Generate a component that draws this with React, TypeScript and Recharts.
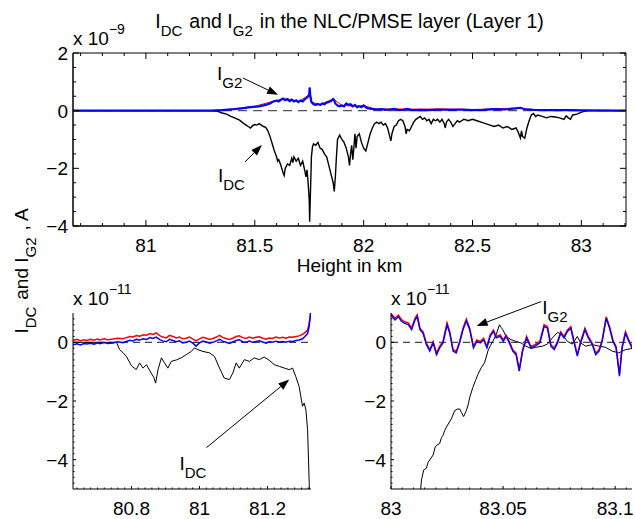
import { LineChart, Line, XAxis, YAxis, ReferenceLine, ReferenceArea } from 'recharts';

const FONT = '"Liberation Sans", Arial, Helvetica, sans-serif';

// ---------- top panel (whole layer), current in units of 1e-9 A ----------
const topDomainH = [80.665, 83.205];
const topDomainI = [-4, 2];
const topMajorH = [81, 81.5, 82, 82.5, 83];
const topMinorH = [80.7, 80.8, 80.9, 81.1, 81.2, 81.3, 81.4, 81.6, 81.7, 81.8, 81.9, 82.1, 82.2, 82.3, 82.4, 82.6, 82.7, 82.8, 82.9, 83.1, 83.2];
const topMajorI = [-4, -2, 0, 2];
const topMinorI = [-3.5, -3, -2.5, -1.5, -1, -0.5, 0.5, 1, 1.5];

const topIdc = [
  [80.665, 0], [81.3, 0], [81.33, -0.02], [81.35, -0.08], [81.37, -0.12], [81.39, -0.2], [81.41, -0.26],
  [81.43, -0.33], [81.45, -0.45], [81.46, -0.5], [81.47, -0.55], [81.48, -0.6], [81.49, -0.52], [81.5, -0.48],
  [81.51, -0.5], [81.52, -0.45], [81.53, -0.5], [81.54, -0.55], [81.55, -0.58], [81.56, -0.7], [81.57, -0.9],
  [81.58, -1.15], [81.59, -1.4], [81.6, -1.6], [81.605, -1.75], [81.61, -1.7], [81.62, -1.9], [81.63, -2.15],
  [81.635, -2.25], [81.64, -2.0], [81.65, -1.85], [81.66, -1.9], [81.67, -1.65], [81.675, -1.8], [81.68, -1.6],
  [81.69, -1.75], [81.7, -1.65], [81.71, -1.9], [81.72, -1.75], [81.73, -2.1], [81.735, -2.3], [81.74, -2.05],
  [81.745, -2.5], [81.75, -3.1], [81.752, -3.85], [81.755, -3.0], [81.758, -2.2], [81.76, -1.6], [81.765, -1.25],
  [81.77, -1.15], [81.78, -1.2], [81.79, -1.1], [81.8, -1.3], [81.81, -1.35], [81.82, -1.5], [81.83, -1.6],
  [81.84, -1.9], [81.85, -2.2], [81.86, -2.5], [81.865, -2.8], [81.87, -2.3], [81.875, -1.6], [81.88, -1.0],
  [81.89, -0.85], [81.9, -1.0], [81.91, -1.1], [81.92, -1.3], [81.93, -1.6], [81.935, -1.9], [81.94, -1.5],
  [81.945, -1.2], [81.95, -1.7], [81.955, -1.3], [81.96, -0.8], [81.965, -1.3], [81.97, -0.9], [81.98, -0.8],
  [81.99, -1.1], [82.0, -1.3], [82.01, -1.4], [82.02, -1.1], [82.03, -0.8], [82.04, -0.6], [82.05, -0.45],
  [82.06, -0.4], [82.07, -0.45], [82.08, -0.4], [82.09, -0.5], [82.1, -0.45], [82.11, -0.6], [82.12, -0.9],
  [82.125, -1.05], [82.13, -0.8], [82.14, -0.55], [82.15, -0.5], [82.16, -0.35], [82.17, -0.3], [82.18, -0.35],
  [82.19, -0.55], [82.195, -0.8], [82.2, -0.65], [82.21, -0.7], [82.22, -0.55], [82.23, -0.4], [82.24, -0.3],
  [82.25, -0.25], [82.26, -0.2], [82.27, -0.3], [82.28, -0.25], [82.29, -0.35], [82.3, -0.3], [82.31, -0.45],
  [82.32, -0.3], [82.33, -0.35], [82.34, -0.3], [82.35, -0.4], [82.36, -0.3], [82.37, -0.45], [82.375, -0.6],
  [82.38, -0.4], [82.39, -0.3], [82.4, -0.4], [82.41, -0.55], [82.42, -0.45], [82.43, -0.35], [82.44, -0.4],
  [82.45, -0.35], [82.46, -0.3], [82.47, -0.32], [82.48, -0.35], [82.5, -0.3], [82.52, -0.35], [82.54, -0.4],
  [82.56, -0.45], [82.58, -0.5], [82.6, -0.55], [82.62, -0.5], [82.64, -0.6], [82.66, -0.55], [82.68, -0.65],
  [82.7, -0.6], [82.71, -0.75], [82.72, -0.95], [82.725, -0.7], [82.73, -0.9], [82.74, -0.95], [82.75, -0.6],
  [82.76, -0.35], [82.77, -0.15], [82.78, -0.1], [82.79, -0.2], [82.8, -0.15], [82.82, -0.2], [82.84, -0.25],
  [82.86, -0.2], [82.88, -0.22], [82.9, -0.25], [82.92, -0.3], [82.93, -0.18], [82.94, -0.25], [82.95, -0.3],
  [82.96, -0.15], [82.98, -0.12], [83.0, -0.05], [83.03, 0], [83.205, 0],
];

// red trace sits almost exactly under the blue one
const topIg2Red = [
  [80.665, 0.0], [81.3, 0.0], [81.4, 0.06], [81.5, 0.15], [81.6, 0.36], [81.65, 0.41], [81.7, 0.31],
  [81.75, 0.55], [81.752, 0.8], [81.76, 0.3], [81.8, 0.21], [81.86, 0.41], [81.9, 0.18], [81.95, 0.16],
  [82.0, 0.18], [82.05, 0.06], [82.15, 0.06], [82.25, 0.05], [82.35, 0.06], [82.5, 0.04], [82.6, 0.06],
  [82.7, 0.09], [82.8, 0.03], [83.0, 0.01], [83.205, 0.0],
];

const topIg2Blue = [
  [80.665, 0], [81.3, 0], [81.35, 0.02], [81.4, 0.05], [81.44, 0.08], [81.48, 0.12], [81.52, 0.15],
  [81.55, 0.2], [81.57, 0.25], [81.58, 0.3], [81.6, 0.35], [81.61, 0.32], [81.62, 0.38], [81.63, 0.42],
  [81.64, 0.36], [81.65, 0.4], [81.66, 0.33], [81.67, 0.38], [81.68, 0.32], [81.69, 0.36], [81.7, 0.3],
  [81.71, 0.35], [81.72, 0.32], [81.73, 0.4], [81.74, 0.45], [81.75, 0.55], [81.752, 0.8], [81.755, 0.5],
  [81.76, 0.3], [81.77, 0.22], [81.78, 0.2], [81.79, 0.23], [81.8, 0.2], [81.81, 0.25], [81.82, 0.22],
  [81.83, 0.28], [81.84, 0.3], [81.85, 0.33], [81.86, 0.4], [81.865, 0.35], [81.87, 0.25], [81.88, 0.18],
  [81.89, 0.15], [81.9, 0.18], [81.91, 0.15], [81.92, 0.25], [81.93, 0.2], [81.94, 0.22], [81.95, 0.15],
  [81.96, 0.2], [81.97, 0.12], [81.98, 0.15], [81.99, 0.12], [82.0, 0.18], [82.01, 0.12], [82.02, 0.08],
  [82.04, 0.06], [82.06, 0.04], [82.08, 0.05], [82.1, 0.03], [82.12, 0.04], [82.14, 0.06], [82.16, 0.02],
  [82.18, 0.03], [82.2, 0.06], [82.22, 0.02], [82.26, 0.03], [82.3, 0.02], [82.35, 0.04], [82.4, 0.03],
  [82.45, 0.04], [82.5, 0.02], [82.55, 0.03], [82.6, 0.05], [82.65, 0.04], [82.7, 0.08], [82.72, 0.1],
  [82.74, 0.05], [82.78, 0.03], [82.85, 0.02], [82.95, 0.02], [83.0, 0.01], [83.205, 0],
];

// ---------- bottom panels, units of 1e-11 A ----------
const lowDomainI = [-5, 1];
const lowMajorI = [-4, -2, 0];
const lowMinorI = [-4.8, -4.6, -4.4, -4.2, -3.8, -3.6, -3.4, -3.2, -3, -2.8, -2.6, -2.4, -2.2, -1.8, -1.6, -1.4,
  -1.2, -1, -0.8, -0.6, -0.4, -0.2, 0.2, 0.4, 0.6, 0.8];

// lower edge of the layer
const leftDomainH = [80.628, 81.328];
const leftMajorH = [80.8, 81, 81.2];
const leftMinorH = [80.64, 80.66, 80.68, 80.7, 80.72, 80.74, 80.76, 80.78, 80.82, 80.84, 80.86, 80.88, 80.9,
  80.92, 80.94, 80.96, 80.98, 81.02, 81.04, 81.06, 81.08, 81.1, 81.12, 81.14, 81.16, 81.18, 81.22, 81.24,
  81.26, 81.28, 81.3, 81.32];

const leftIdc = [
  [80.628, 0.0], [80.7, 0.0], [80.756, 0.0], [80.765, -0.25], [80.775, -0.35], [80.785, -0.48], [80.8, -0.8],
  [80.814, -0.93], [80.824, -0.7], [80.834, -0.88], [80.844, -0.76], [80.858, -1.05], [80.866, -1.2],
  [80.871, -1.39], [80.878, -0.93], [80.888, -0.53], [80.897, -0.7], [80.907, -0.88], [80.917, -0.65],
  [80.932, -0.6], [80.946, -0.53], [80.961, -0.42], [80.976, -0.31], [80.985, -0.19], [80.995, -0.25],
  [81.01, -0.31], [81.03, -0.36], [81.044, -0.48], [81.059, -0.88], [81.073, -1.22], [81.088, -1.27],
  [81.098, -1.05], [81.108, -0.7], [81.117, -0.88], [81.132, -0.59], [81.147, -0.65], [81.161, -0.53],
  [81.176, -0.59], [81.19, -0.5], [81.205, -0.61], [81.22, -0.76], [81.235, -0.82], [81.25, -0.88],
  [81.264, -0.93], [81.274, -0.88], [81.283, -1.16], [81.293, -1.5], [81.303, -2.18], [81.308, -2.07],
  [81.313, -2.3], [81.318, -2.98], [81.323, -4.9], [81.325, -5.5],
];

const leftIg2Red = [
  [80.628, 0.07], [80.64, 0.1], [80.65, 0.05], [80.66, 0.09], [80.668, 0.06], [80.68, 0.1], [80.69, 0.07],
  [80.7, 0.11], [80.707, 0.08], [80.72, 0.12], [80.73, 0.09], [80.746, 0.11], [80.76, 0.14], [80.775, 0.12],
  [80.785, 0.16], [80.795, 0.2], [80.804, 0.18], [80.815, 0.23], [80.824, 0.21], [80.835, 0.26], [80.844, 0.24],
  [80.855, 0.3], [80.863, 0.27], [80.873, 0.32], [80.883, 0.23], [80.892, 0.18], [80.902, 0.15], [80.912, 0.24],
  [80.922, 0.2], [80.932, 0.15], [80.941, 0.18], [80.951, 0.12], [80.961, 0.14], [80.97, 0.18], [80.98, 0.12],
  [80.99, 0.05], [81.0, 0.12], [81.01, 0.17], [81.02, 0.14], [81.03, 0.1], [81.039, 0.13], [81.05, 0.18],
  [81.059, 0.24], [81.068, 0.17], [81.078, 0.13], [81.088, 0.1], [81.098, 0.14], [81.108, 0.2], [81.117, 0.22],
  [81.127, 0.16], [81.137, 0.13], [81.147, 0.18], [81.156, 0.14], [81.166, 0.17], [81.176, 0.19], [81.186, 0.14],
  [81.196, 0.11], [81.205, 0.15], [81.215, 0.13], [81.225, 0.18], [81.235, 0.15], [81.245, 0.17], [81.254, 0.14],
  [81.264, 0.18], [81.274, 0.17], [81.284, 0.2], [81.293, 0.22], [81.303, 0.27], [81.31, 0.33], [81.318, 0.42],
  [81.322, 0.6], [81.325, 0.85], [81.328, 1.15],
];

const leftIg2Blue = [
  [80.628, -0.08], [80.64, -0.05], [80.65, -0.09], [80.66, -0.04], [80.668, -0.06], [80.68, -0.03], [80.69, -0.06],
  [80.7, -0.02], [80.707, -0.05], [80.72, -0.01], [80.73, -0.04], [80.746, -0.02], [80.76, 0.02], [80.775, -0.01],
  [80.785, 0.03], [80.795, 0.07], [80.804, 0.05], [80.815, 0.1], [80.824, 0.08], [80.835, 0.12], [80.844, 0.1],
  [80.855, 0.16], [80.863, 0.13], [80.873, 0.18], [80.883, 0.09], [80.892, 0.05], [80.902, 0.02], [80.912, 0.1],
  [80.922, 0.06], [80.932, 0.02], [80.941, 0.05], [80.951, -0.02], [80.961, 0.0], [80.97, 0.04], [80.98, -0.02],
  [80.99, -0.13], [81.0, -0.02], [81.01, 0.04], [81.02, 0.01], [81.03, -0.03], [81.039, 0.0], [81.05, 0.05],
  [81.059, 0.1], [81.068, 0.04], [81.078, 0.0], [81.088, -0.04], [81.098, 0.01], [81.108, 0.06], [81.117, 0.09],
  [81.127, 0.02], [81.137, 0.0], [81.147, 0.04], [81.156, 0.0], [81.166, 0.03], [81.176, 0.05], [81.186, 0.01],
  [81.196, -0.03], [81.205, 0.02], [81.215, 0.0], [81.225, 0.04], [81.235, 0.01], [81.245, 0.03], [81.254, 0.0],
  [81.264, 0.04], [81.274, 0.03], [81.284, 0.06], [81.293, 0.08], [81.303, 0.12], [81.31, 0.2], [81.318, 0.3],
  [81.322, 0.5], [81.325, 0.8], [81.328, 1.1],
];

// upper edge of the layer
const rightDomainH = [83.0, 83.1075];
const rightMajorH = [83, 83.05, 83.1];
const rightMinorH = [83.005, 83.01, 83.015, 83.02, 83.025, 83.03, 83.035, 83.04, 83.045, 83.055, 83.06, 83.065,
  83.07, 83.075, 83.08, 83.085, 83.09, 83.095, 83.105];

const rightIdc = [
  [83.0132, -5.02], [83.0136, -4.69], [83.0146, -4.35], [83.0158, -4.29], [83.0165, -4.1], [83.0173, -4.01],
  [83.0188, -3.84], [83.0196, -3.6], [83.0203, -3.51], [83.0217, -3.45], [83.0225, -3.25], [83.0232, -3.17],
  [83.024, -3.0], [83.0247, -2.89], [83.0258, -2.75], [83.0269, -2.61], [83.0284, -2.33], [83.0295, -2.28],
  [83.0306, -2.27], [83.0315, -2.4], [83.0324, -2.53], [83.0336, -2.33], [83.0345, -2.1], [83.0351, -1.88],
  [83.0365, -1.54], [83.0377, -1.3], [83.0388, -1.09], [83.0402, -0.87], [83.0417, -0.7], [83.0425, -0.5],
  [83.0432, -0.3], [83.0444, -0.1], [83.0454, 0.03], [83.0469, 0.26], [83.0484, 0.6], [83.0492, 0.5],
  [83.0499, 0.43], [83.0513, 0.2], [83.0536, 0.09], [83.0558, 0.03], [83.058, -0.02], [83.0602, -0.13],
  [83.0624, -0.21], [83.0646, -0.17], [83.0676, -0.13], [83.0698, -0.06], [83.072, 0.15], [83.0743, 0.34],
  [83.0765, 0.26], [83.0787, 0.03], [83.0809, -0.06], [83.0831, 0.2], [83.0846, -0.02], [83.0868, -0.13],
  [83.0898, -0.08], [83.0928, -0.13], [83.0957, -0.17], [83.0987, -0.3], [83.1016, -0.36], [83.1046, -0.25],
  [83.1075, -0.21],
];

const rightIg2Red = [
  [83.0, 0.98], [83.0018, 0.82], [83.0033, 0.93], [83.0047, 0.77], [83.0062, 0.7], [83.0077, 0.66], [83.0092, 0.49],
  [83.0107, 0.82], [83.0117, 0.94], [83.0129, 0.48], [83.0143, 0.36], [83.0158, -0.03], [83.0173, -0.25],
  [83.0188, 0.03], [83.0203, -0.37], [83.0217, -0.14], [83.0232, 0.03], [83.025, 0.66], [83.0262, 0.36],
  [83.0277, -0.25], [83.0291, -0.31], [83.0306, 0.03], [83.0321, 0.48], [83.0336, 0.79], [83.0351, 0.48],
  [83.0368, -0.14], [83.0383, 0.08], [83.0398, 0.03], [83.0413, 0.14], [83.0428, -0.14], [83.0442, 0.25],
  [83.0457, 0.42], [83.0469, 0.2], [83.0487, 0.25], [83.0501, 0.08], [83.0513, 0.25], [83.0528, 0.03],
  [83.0543, -0.25], [83.0558, -0.37], [83.0572, -0.92], [83.0587, -0.25], [83.0605, 0.2], [83.0624, -0.14],
  [83.0643, -0.08], [83.0664, 0.03], [83.0683, 0.6], [83.0698, 0.53], [83.0713, -0.08], [83.0728, -0.2],
  [83.0743, 0.03], [83.0757, 0.36], [83.0772, 0.2], [83.0787, 0.42], [83.0802, 0.53], [83.0817, 0.03],
  [83.0831, -0.42], [83.0846, 0.03], [83.0865, 0.48], [83.088, 0.2], [83.0898, -0.03], [83.0913, -0.37],
  [83.0928, -0.25], [83.0942, 0.08], [83.096, 0.87], [83.0975, 0.53], [83.099, 0.08], [83.1004, -0.14],
  [83.1019, -1.08], [83.1031, -0.14], [83.1046, 0.36], [83.1061, 0.08], [83.1075, -0.14],
];

const rightIg2Blue = [
  [83.0, 0.93], [83.0018, 0.76], [83.0033, 0.88], [83.0047, 0.71], [83.0062, 0.65], [83.0077, 0.6], [83.0092, 0.43],
  [83.0107, 0.76], [83.0117, 0.88], [83.0129, 0.43], [83.0143, 0.31], [83.0158, -0.08], [83.0173, -0.3],
  [83.0188, -0.02], [83.0203, -0.42], [83.0217, -0.19], [83.0232, -0.02], [83.025, 0.6], [83.0262, 0.31],
  [83.0277, -0.3], [83.0291, -0.36], [83.0306, -0.02], [83.0321, 0.43], [83.0336, 0.73], [83.0351, 0.43],
  [83.0368, -0.19], [83.0383, 0.03], [83.0398, -0.02], [83.0413, 0.09], [83.0428, -0.19], [83.0442, 0.2],
  [83.0457, 0.37], [83.0469, 0.15], [83.0487, 0.2], [83.0501, 0.03], [83.0513, 0.2], [83.0528, -0.02],
  [83.0543, -0.3], [83.0558, -0.42], [83.0572, -0.98], [83.0587, -0.3], [83.0605, 0.15], [83.0624, -0.19],
  [83.0643, -0.13], [83.0664, -0.02], [83.0683, 0.54], [83.0698, 0.48], [83.0713, -0.13], [83.0728, -0.25],
  [83.0743, -0.02], [83.0757, 0.31], [83.0772, 0.15], [83.0787, 0.37], [83.0802, 0.48], [83.0817, -0.02],
  [83.0831, -0.47], [83.0846, -0.02], [83.0865, 0.43], [83.088, 0.15], [83.0898, -0.08], [83.0913, -0.42],
  [83.0928, -0.3], [83.0942, 0.03], [83.096, 0.82], [83.0975, 0.48], [83.099, 0.03], [83.1004, -0.19],
  [83.1019, -1.15], [83.1031, -0.19], [83.1046, 0.31], [83.1061, 0.03], [83.1075, -0.19],
];

// annotation arrows: [tail, head] in (height, current) units of each panel
const topG2Arrow = [[81.446, 1.13], [81.607, 0.55]];
const topDcArrow = [[81.455, -1.78], [81.533, -1.19]];
const leftDcArrow = [[81.0205, -3.59], [81.264, -1.27]];
const rightG2Arrow = [[83.067, 1.39], [83.0382, 0.56]];

const rows = (pairs: number[][]) => pairs.map(([h, v]) => ({ h, v }));
const zeroRow = (dom: number[]) => [{ h: dom[0], v: 0 }, { h: dom[1], v: 0 }];
const fmt = (v: number) => String(v).replace('-', '\u2212');
const isIn = (list: number[], v: number) => list.some((m) => Math.abs(m - v) < 1e-7);

type TickCfg = { majors: number[]; span: number; big: number; small: number; mirror: boolean };

const xTick = (c: TickCfg) => (p: any) => {
  const v = p.payload.value;
  const major = isIn(c.majors, v);
  const len = major ? c.big : c.small;
  return (
    <g>
      <line x1={p.x} y1={p.y} x2={p.x} y2={p.y - len} stroke="#000" />
      {c.mirror && <line x1={p.x} y1={p.y - c.span} x2={p.x} y2={p.y - c.span + len} stroke="#000" />}
      {major && (
        <text x={p.x} y={p.y + 26} textAnchor="middle" fontSize={19} fontFamily={FONT} fill="#000">
          {fmt(v)}
        </text>
      )}
    </g>
  );
};

const yTick = (c: TickCfg) => (p: any) => {
  const v = p.payload.value;
  const major = isIn(c.majors, v);
  const len = major ? c.big : c.small;
  return (
    <g>
      <line x1={p.x} y1={p.y} x2={p.x + len} y2={p.y} stroke="#000" />
      {c.mirror && <line x1={p.x + c.span} y1={p.y} x2={p.x + c.span - len} y2={p.y} stroke="#000" />}
      {major && (
        <text x={p.x - 5} y={p.y + 7} textAnchor="end" fontSize={19} fontFamily={FONT} fill="#000">
          {fmt(v)}
        </text>
      )}
    </g>
  );
};

const arrow = (sub: string, dx: number, dy: number) => (p: any) => {
  const { x1, y1, x2, y2 } = p;
  const a = Math.atan2(y2 - y1, x2 - x1);
  const L = 11;
  const W = 4;
  const bx = x2 - L * Math.cos(a);
  const by = y2 - L * Math.sin(a);
  const pts = `${x2},${y2} ${bx - W * Math.sin(a)},${by + W * Math.cos(a)} ${bx + W * Math.sin(a)},${by - W * Math.cos(a)}`;
  return (
    <g>
      <line x1={x1} y1={y1} x2={bx} y2={by} stroke="#000" strokeWidth={1} />
      <polygon points={pts} fill="#000" />
      <text x={x1 + dx} y={y1 + dy} fontSize={19} fontFamily={FONT} fill="#000">
        I<tspan dy={8} fontSize={15}>{sub}</tspan>
      </text>
    </g>
  );
};

const seg = (s: number[][]) => [{ x: s[0][0], y: s[0][1] }, { x: s[1][0], y: s[1][1] }];

const Sub = ({ t }: { t: string }) => (
  <>
    <tspan dy={8} fontSize={15}>{t}</tspan>
    <tspan dy={-8}>{'\u200a'}</tspan>
  </>
);

const App = () => {
  const topCfgX: TickCfg = { majors: topMajorH, span: 173, big: 6, small: 3, mirror: true };
  const topCfgY: TickCfg = { majors: topMajorI, span: 553, big: 6, small: 3, mirror: true };
  const leftCfgX: TickCfg = { majors: leftMajorH, span: 176, big: 3, small: 1.5, mirror: false };
  const lowCfgY: TickCfg = { majors: lowMajorI, span: 0, big: 3, small: 1.5, mirror: false };
  const rightCfgX: TickCfg = { majors: rightMajorH, span: 176, big: 3, small: 1.5, mirror: false };

  return (
    <div style={{ position: 'absolute', left: 0, top: 0, width: 635, height: 519, background: '#fff', fontFamily: FONT }}>
      {/* top panel */}
      <div style={{ position: 'absolute', left: 0, top: 0 }}>
        <LineChart width={635} height={260} margin={{ top: 53, right: 9, bottom: 4, left: 13 }}>
          <XAxis dataKey="h" type="number" domain={topDomainH} allowDataOverflow ticks={[...topMinorH, ...topMajorH]}
            interval={0} tickSize={0} tickMargin={0} tick={xTick(topCfgX)} height={30} stroke="#000" />
          <YAxis type="number" domain={topDomainI} allowDataOverflow ticks={[...topMinorI, ...topMajorI]}
            interval={0} tickSize={0} tickMargin={0} tick={yTick(topCfgY)} width={60} stroke="#000" />
          <ReferenceArea x1={topDomainH[0]} x2={topDomainH[1]} y1={topDomainI[0]} y2={topDomainI[1]}
            fill="none" fillOpacity={0} stroke="#000" strokeWidth={1} />
          <Line data={zeroRow(topDomainH)} dataKey="v" stroke="#555" strokeDasharray="9 6" strokeWidth={1.2}
            dot={false} activeDot={false} isAnimationActive={false} />
          <Line data={rows(topIdc)} dataKey="v" stroke="#000" strokeWidth={1.4} dot={false} activeDot={false}
            isAnimationActive={false} />
          <Line data={rows(topIg2Red)} dataKey="v" stroke="#ff0000" strokeWidth={1} dot={false} activeDot={false}
            isAnimationActive={false} />
          <Line data={rows(topIg2Blue)} dataKey="v" stroke="#0000ff" strokeWidth={2.2} dot={false} activeDot={false}
            isAnimationActive={false} />
          <ReferenceLine segment={seg(topG2Arrow)} ifOverflow="visible" shape={arrow('G2', -26, 2)} />
          <ReferenceLine segment={seg(topDcArrow)} ifOverflow="visible" shape={arrow('DC', -27, 20)} />
        </LineChart>
      </div>

      {/* lower edge zoom */}
      <div style={{ position: 'absolute', left: 0, top: 260 }}>
        <LineChart width={330} height={259} margin={{ top: 53, right: 19, bottom: 0, left: 13 }}>
          <XAxis dataKey="h" type="number" domain={leftDomainH} allowDataOverflow ticks={[...leftMinorH, ...leftMajorH]}
            interval={0} tickSize={0} tickMargin={0} tick={xTick(leftCfgX)} height={30} stroke="#000" />
          <YAxis type="number" domain={lowDomainI} allowDataOverflow ticks={[...lowMinorI, ...lowMajorI]}
            interval={0} tickSize={0} tickMargin={0} tick={yTick(lowCfgY)} width={60} stroke="#000" />
          <Line data={zeroRow(leftDomainH)} dataKey="v" stroke="#444" strokeDasharray="7 5" strokeWidth={1.2}
            dot={false} activeDot={false} isAnimationActive={false} />
          <Line data={rows(leftIdc)} dataKey="v" stroke="#000" strokeWidth={1} dot={false} activeDot={false}
            isAnimationActive={false} />
          <Line data={rows(leftIg2Red)} dataKey="v" stroke="#ff0000" strokeWidth={1.5} dot={false} activeDot={false}
            isAnimationActive={false} />
          <Line data={rows(leftIg2Blue)} dataKey="v" stroke="#0000ff" strokeWidth={1.5} dot={false} activeDot={false}
            isAnimationActive={false} />
          <ReferenceLine segment={seg(leftDcArrow)} ifOverflow="visible" shape={arrow('DC', -27, 22)} />
        </LineChart>
      </div>

      {/* upper edge zoom */}
      <div style={{ position: 'absolute', left: 330, top: 260 }}>
        <LineChart width={305} height={259} margin={{ top: 53, right: 3, bottom: 0, left: 11 }}>
          <XAxis dataKey="h" type="number" domain={rightDomainH} allowDataOverflow ticks={[...rightMinorH, ...rightMajorH]}
            interval={0} tickSize={0} tickMargin={0} tick={xTick(rightCfgX)} height={30} stroke="#000" />
          <YAxis type="number" domain={lowDomainI} allowDataOverflow ticks={[...lowMinorI, ...lowMajorI]}
            interval={0} tickSize={0} tickMargin={0} tick={yTick(lowCfgY)} width={50} stroke="#000" />
          <Line data={zeroRow(rightDomainH)} dataKey="v" stroke="#444" strokeDasharray="7 5" strokeWidth={1.2}
            dot={false} activeDot={false} isAnimationActive={false} />
          <Line data={rows(rightIdc)} dataKey="v" stroke="#000" strokeWidth={1} dot={false} activeDot={false}
            isAnimationActive={false} />
          <Line data={rows(rightIg2Red)} dataKey="v" stroke="#ff0000" strokeWidth={1.5} dot={false} activeDot={false}
            isAnimationActive={false} />
          <Line data={rows(rightIg2Blue)} dataKey="v" stroke="#0000ff" strokeWidth={1.4} dot={false} activeDot={false}
            isAnimationActive={false} />
          <ReferenceLine segment={seg(rightG2Arrow)} ifOverflow="visible" shape={arrow('G2', 1, 12)} />
        </LineChart>
      </div>

      {/* figure texts */}
      <svg width={635} height={519} style={{ position: 'absolute', left: 0, top: 0, pointerEvents: 'none' }}>
        <g fontFamily={FONT} fill="#000">
          <text x={349.5} y={28} textAnchor="middle" fontSize={19.5}>
            I<Sub t="DC" /> and I<Sub t="G2" /> in the NLC/PMSE layer (Layer 1)
          </text>
          <text x={73} y={45} fontSize={19}>
            x 10<tspan dy={-11} fontSize={14}>{'\u22129'}</tspan>
          </text>
          <text x={73} y={305} fontSize={19}>
            x 10<tspan dy={-11} fontSize={14}>{'\u221211'}</tspan>
          </text>
          <text x={391} y={305} fontSize={19}>
            x 10<tspan dy={-11} fontSize={14}>{'\u221211'}</tspan>
          </text>
          <text x={349.5} y={272} textAnchor="middle" fontSize={19}>Height in km</text>
          <text x={28} y={271} textAnchor="middle" fontSize={19} transform="rotate(-90 28 271)">
            I<Sub t="DC" /> and I<Sub t="G2" /> , A
          </text>
        </g>
      </svg>
    </div>
  );
};

export default App;
